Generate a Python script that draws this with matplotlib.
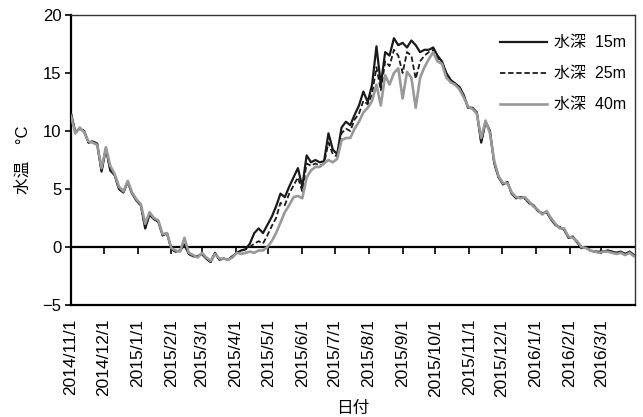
import matplotlib
matplotlib.use('Agg')
import matplotlib.pyplot as plt
import matplotlib.dates as mdates
import pandas as pd

dates = pd.date_range('2014-11-01', periods=130, freq='4D')

t15 = [11.5, 9.9, 10.2, 10.0, 9.0, 9.1, 8.9, 6.5, 8.5, 6.6,
       6.2, 5.0, 4.7, 5.6, 4.6, 4.0, 3.6, 1.6, 2.8, 2.4,
       2.2, 1.0, 1.2, -0.2, -0.4, -0.3, 0.2, -0.6, -0.8, -0.8,
       -0.6, -1.0, -1.3, -0.5, -1.1, -1.0, -1.1, -0.8, -0.5, -0.3,
       -0.2, 0.3, 1.2, 1.6, 1.2, 1.9, 2.6, 3.5, 4.6, 4.3,
       5.2, 6.0, 6.8, 5.2, 7.9, 7.3, 7.5, 7.3, 7.4, 9.8,
       8.4, 8.0, 10.3, 10.8, 10.5, 11.4, 12.2, 13.4, 12.5, 14.0,
       17.3, 14.0, 16.8, 16.5, 18.0, 17.4, 17.6, 17.2, 17.8, 17.4,
       16.8, 17.0, 17.0, 17.2, 16.5, 16.0, 15.0, 14.4, 14.1, 13.8,
       13.1, 12.0, 12.0, 11.6, 9.0, 10.8, 10.0, 7.2, 6.0, 5.4,
       5.6, 4.6, 4.2, 4.3, 4.2, 3.8, 3.6, 3.1, 2.9, 3.0,
       2.4, 1.9, 1.7, 1.5, 0.8, 0.9, 0.4, -0.1, 0.0, -0.3,
       -0.4, -0.4, -0.4, -0.3, -0.4, -0.5, -0.4, -0.6, -0.4, -0.7]

t25 = [11.5, 9.9, 10.2, 10.0, 9.0, 9.1, 8.9, 6.5, 8.5, 6.6,
       6.2, 5.0, 4.7, 5.6, 4.6, 4.0, 3.6, 1.6, 2.8, 2.4,
       2.2, 1.0, 1.2, -0.2, -0.4, -0.3, 0.2, -0.6, -0.8, -0.8,
       -0.6, -1.0, -1.3, -0.5, -1.1, -1.0, -1.1, -0.8, -0.5, -0.3,
       -0.2, 0.0, 0.3, 0.5, 0.3, 1.0, 1.8, 2.5, 3.8, 3.6,
       4.6, 5.3, 6.0, 4.8, 7.2, 7.0, 7.2, 7.0, 7.2, 9.0,
       8.0, 7.8, 9.8, 10.2, 10.0, 11.0, 11.5, 12.6, 12.3, 13.2,
       15.5, 13.5, 16.0, 15.6, 17.0, 16.5, 15.0, 16.8, 16.5, 14.5,
       16.0, 16.5, 16.8, 17.0, 16.3, 16.0, 15.0, 14.4, 14.1, 13.8,
       13.1, 12.0, 12.0, 11.6, 9.0, 10.8, 10.0, 7.2, 6.0, 5.4,
       5.6, 4.6, 4.2, 4.3, 4.2, 3.8, 3.6, 3.1, 2.9, 3.0,
       2.4, 1.9, 1.7, 1.5, 0.8, 0.9, 0.4, -0.1, 0.0, -0.3,
       -0.4, -0.4, -0.4, -0.3, -0.4, -0.5, -0.4, -0.6, -0.4, -0.7]

t40 = [11.3, 9.8, 10.3, 9.9, 9.1, 9.0, 8.8, 6.8, 8.6, 7.0,
       6.3, 5.2, 4.8, 5.7, 4.7, 4.1, 3.7, 2.0, 3.0, 2.5,
       2.3, 1.1, 1.2, -0.1, -0.3, -0.4, 0.8, -0.5, -0.7, -0.9,
       -0.5, -0.9, -1.2, -0.6, -1.0, -1.0, -1.1, -0.9, -0.5, -0.6,
       -0.5, -0.4, -0.5, -0.3, -0.3, 0.0, 0.5, 1.2, 2.1, 3.0,
       3.6, 4.3, 4.4, 4.2, 6.0, 6.6, 6.9, 6.9, 7.2, 7.5,
       7.3, 7.6, 9.2, 9.4, 9.4, 10.2, 10.8, 11.6, 12.0, 12.6,
       14.0, 12.2, 14.8, 14.0, 15.0, 15.4, 12.8, 15.1, 14.6, 12.0,
       14.6, 15.5, 16.2, 16.8, 16.0, 15.8, 14.6, 14.2, 14.0, 13.6,
       12.9, 12.1, 11.9, 11.5, 9.4, 10.9, 9.8, 7.4, 6.1, 5.5,
       5.5, 4.7, 4.3, 4.2, 4.3, 3.9, 3.5, 3.2, 2.8, 3.1,
       2.5, 2.0, 1.6, 1.6, 0.9, 0.8, 0.5, 0.0, -0.1, -0.3,
       -0.4, -0.5, -0.4, -0.4, -0.5, -0.6, -0.5, -0.7, -0.5, -0.8]

labels = ['水深  15m', '水深  25m', '水深  40m']
tick_labels = ['2014/11/1', '2014/12/1', '2015/1/1', '2015/2/1', '2015/3/1',
               '2015/4/1', '2015/5/1', '2015/6/1', '2015/7/1', '2015/8/1',
               '2015/9/1', '2015/10/1', '2015/11/1', '2015/12/1', '2016/1/1',
               '2016/2/1', '2016/3/1']

plt.rcParams['font.family'] = ['Liberation Sans', 'Noto Sans CJK JP']
plt.rcParams['font.size'] = 12

x = mdates.date2num(dates)
ticks = mdates.date2num(pd.to_datetime(tick_labels, format='%Y/%m/%d'))

fig = plt.figure(figsize=(6.43, 4.17), dpi=100)
ax = fig.add_axes([71 / 643, 1 - 305 / 417, 564 / 643, 290 / 417])

ax.plot(x, t15, color='#1a1a1a', lw=1.6, label=labels[0], zorder=3)
ax.plot(x, t25, color='#1a1a1a', lw=1.3, ls=(0, (3, 1.5)), label=labels[1], zorder=3)
ax.plot(x, t40, color='#999999', lw=1.9, label=labels[2], zorder=3)

ax.axhline(0, color='black', lw=1.6, zorder=2)

ax.set_xlim(mdates.date2num(pd.Timestamp('2014-11-01')),
            mdates.date2num(pd.Timestamp('2016-04-01')))
ax.set_ylim(-5, 20)
ax.set_yticks([-5, 0, 5, 10, 15, 20])
ax.set_xticks(ticks)
ax.set_xticklabels(tick_labels, rotation=90, fontsize=12.5)
ax.tick_params(axis='x', length=0, pad=10)
ax.tick_params(axis='y', direction='out', length=4, width=1.2, pad=3)

# tick marks hang from the zero line
sec = ax.secondary_xaxis(0.2)
sec.set_xticks(ticks)
sec.xaxis.set_ticks_position('bottom')
sec.tick_params(direction='out', length=5, width=1.2, labelbottom=False, labeltop=False)
sec.spines['bottom'].set_visible(False)
sec.spines['top'].set_visible(False)

for s in ['left', 'bottom']:
    ax.spines[s].set_linewidth(1.6)
for s in ['top', 'right']:
    ax.spines[s].set_linewidth(1.0)
    ax.spines[s].set_color('#333333')

ax.set_ylabel('水温　°C')
ax.yaxis.set_label_coords(-0.072, 0.5)
ax.set_xlabel('日付')
ax.xaxis.set_label_coords(0.5, -0.33)

ax.legend(loc='upper left', bbox_to_anchor=(0.761, 0.93), frameon=False,
          borderpad=0, borderaxespad=0, handlelength=2.9, handletextpad=0.45,
          labelspacing=1.0, fontsize=11.5)

fig.savefig('out.png', dpi=100)
